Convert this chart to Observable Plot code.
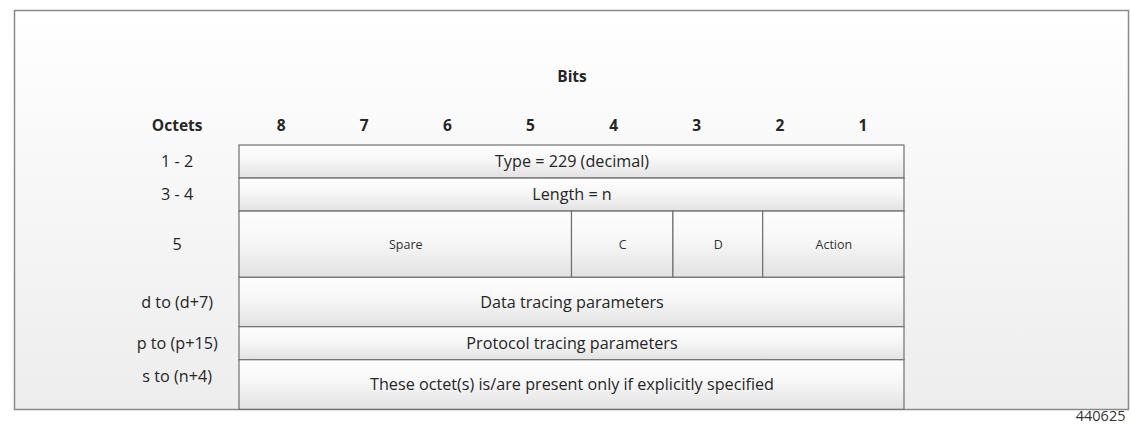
<!DOCTYPE html>
<html>
<head>
<meta charset="utf-8">
<script src="https://cdn.jsdelivr.net/npm/d3@7"></script>
<script src="https://cdn.jsdelivr.net/npm/@observablehq/plot@0.6"></script>
<style>
html, body { margin: 0; padding: 0; background: #ffffff; }
#chart svg { display: block; }
</style>
</head>
<body>
<div id="chart"></div>
<script>
// ---- Data ----
const title = "Bits";
const rowHeader = "Octets";
const bits = [8, 7, 6, 5, 4, 3, 2, 1];
const octets = ["1 - 2", "3 - 4", "5", "d to (d+7)", "p to (p+15)", "s to (n+4)"];
const rowSpans = [1, 1, 2, 1.5, 1, 1.5];            // relative row heights
const rowTexts = [
  "Type = 229 (decimal)",
  "Length = n",
  null,
  "Data tracing parameters",
  "Protocol tracing parameters",
  "These octet(s) is/are present only if explicitly specified"
];
const octet5Fields = ["Spare", "C", "D", "Action"];
const octet5Spans = [4, 1.22, 1.08, 1.7];           // widths in bit columns (as drawn)
const figureId = "440625";

// ---- Derived tables ----
let acc = 0;
const rows = octets.map((o, i) => {
  const r = {octet: o, text: rowTexts[i], y1: acc, y2: acc + rowSpans[i], last: i === octets.length - 1};
  acc += rowSpans[i];
  return r;
});
const fullRows = rows.filter(r => r.text);
let xa = 0;
const fields = octet5Fields.map((f, i) => {
  const r = {name: f, x1: xa, x2: xa + octet5Spans[i]};
  xa += octet5Spans[i];
  return r;
});
const row5 = rows[2];
const nBits = bits.length;
const headerY = -0.6;
const labelX = -0.75;

const defs = () => {
  const d = d3.create("svg:defs");
  const g1 = d.append("linearGradient").attr("id", "cellGrad")
    .attr("x1", 0).attr("y1", 0).attr("x2", 0).attr("y2", 1);
  g1.append("stop").attr("offset", "0%").attr("stop-color", "#fefefe");
  g1.append("stop").attr("offset", "45%").attr("stop-color", "#f7f7f7");
  g1.append("stop").attr("offset", "100%").attr("stop-color", "#e2e2e2");
  const g2 = d.append("linearGradient").attr("id", "bgGrad")
    .attr("x1", 0).attr("y1", 0).attr("x2", 0).attr("y2", 1);
  g2.append("stop").attr("offset", "0%").attr("stop-color", "#ffffff");
  g2.append("stop").attr("offset", "100%").attr("stop-color", "#ededed");
  return d.node();
};

const font = "'Open Sans', Lato, sans-serif";
const ink = "#262626";
const fs = 16.2;
const fsBold = 15.5;

const chart = Plot.plot({
  width: 1131,
  height: 427,
  marginLeft: 14,
  marginTop: 10,
  marginRight: 3,
  marginBottom: 18,
  x: {domain: [0, nBits], range: [239, 904], axis: null},
  y: {domain: [0, acc], range: [145, 409.3], axis: null},
  style: {fontFamily: font, background: "#ffffff", color: ink},
  marks: [
    defs,
    Plot.frame({fill: "url(#bgGrad)", stroke: "#8a8a8a", strokeWidth: 1.5}),
    Plot.rect(fullRows, {x1: 0, x2: nBits, y1: "y1", y2: "y2", fill: "url(#cellGrad)", stroke: "#707070", strokeWidth: 1.2}),
    Plot.rect(fields, {x1: "x1", x2: "x2", y1: row5.y1, y2: row5.y2, fill: "url(#cellGrad)", stroke: "#707070", strokeWidth: 1.2}),
    Plot.text(fullRows, {x: nBits / 2, y: d => (d.y1 + d.y2) / 2, text: "text", fontSize: fs, fill: ink}),
    Plot.text(fields, {x: d => (d.x1 + d.x2) / 2, y: (row5.y1 + row5.y2) / 2, text: "name", fontSize: 12.5, fill: "#333333"}),
    Plot.text(rows, {x: labelX, y: d => d.last ? d.y1 + 0.5 : (d.y1 + d.y2) / 2, text: "octet", fontSize: fs, fill: ink}),
    Plot.text(bits, {x: (d, i) => i + 0.5, y: headerY, text: d => String(d), fontSize: fsBold, fontWeight: "bold", fill: ink}),
    Plot.text([rowHeader], {x: labelX, y: headerY, text: d => d, fontSize: fsBold, fontWeight: "bold", fill: ink}),
    Plot.text([title], {x: nBits / 2, y: -2.06, text: d => d, fontSize: fsBold, fontWeight: "bold", fill: ink}),
    Plot.text([figureId], {frameAnchor: "bottom-right", text: d => d, textAnchor: "end", dx: -3, dy: 11, fontSize: 14.5, fill: "#333333"})
  ]
});
document.getElementById("chart").appendChild(chart);
</script>
</body>
</html>
